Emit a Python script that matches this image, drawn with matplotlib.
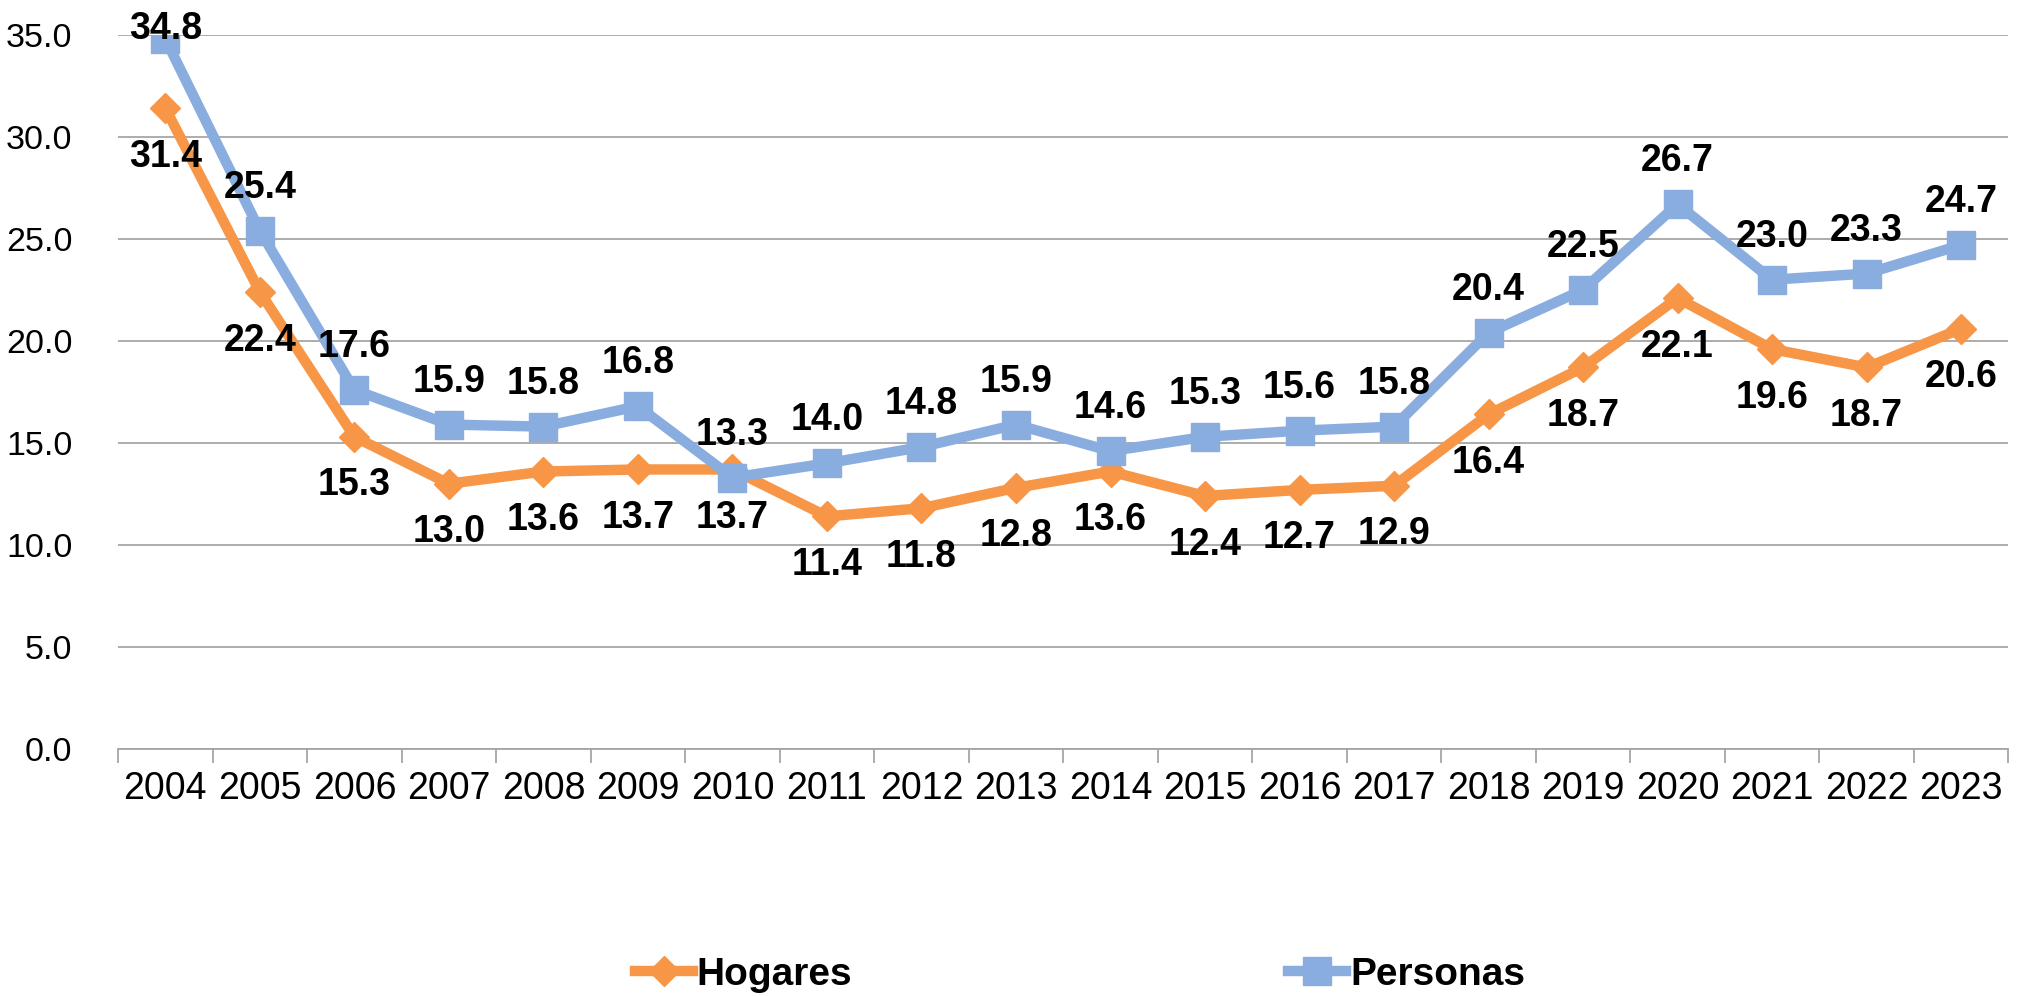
import matplotlib.pyplot as plt
from matplotlib.ticker import FixedLocator, FormatStrFormatter

years = [str(y) for y in range(2004, 2024)]
hogares = [31.4, 22.4, 15.3, 13.0, 13.6, 13.7, 13.7, 11.4, 11.8, 12.8,
           13.6, 12.4, 12.7, 12.9, 16.4, 18.7, 22.1, 19.6, 18.7, 20.6]
personas = [34.8, 25.4, 17.6, 15.9, 15.8, 16.8, 13.3, 14.0, 14.8, 15.9,
            14.6, 15.3, 15.6, 15.8, 20.4, 22.5, 26.7, 23.0, 23.3, 24.7]

orange = '#F79646'
blue = '#8AADE0'
grid = '#A6A6A6'
fam = ['Liberation Sans', 'DejaVu Sans']
plt.rcParams['font.family'] = fam

fig = plt.figure(figsize=(20.26, 9.96), dpi=100)
ax = fig.add_axes([0.0583, 0.248, 0.933, 0.717])

x = list(range(len(years)))
ax.plot(x, hogares, color=orange, lw=7.5, marker='D', ms=15, label='Hogares', zorder=3)
ax.plot(x, personas, color=blue, lw=7.5, marker='s', ms=20, label='Personas', zorder=4)

# etiquetas: Hogares debajo, Personas encima
for i, v in enumerate(hogares):
    ax.annotate(f'{v:.1f}', (i, v), xytext=(0, -35), textcoords='offset points',
                ha='center', va='center', fontsize=27, fontweight='bold', zorder=5)
for i, v in enumerate(personas):
    dy = 31 if v < 33 else 7
    ax.annotate(f'{v:.1f}', (i, v), xytext=(0, dy), textcoords='offset points',
                ha='center', va='center', fontsize=27, fontweight='bold', zorder=5)

ax.set_xlim(-0.5, len(years) - 0.5)
ax.set_ylim(0, 35)
ax.set_yticks([0, 5, 10, 15, 20, 25, 30, 35])
ax.yaxis.set_major_formatter(FormatStrFormatter('%.1f'))
ax.tick_params(axis='y', length=0, pad=33, labelsize=24.5)
ax.yaxis.grid(True, color=grid, lw=1.3)
ax.set_axisbelow(True)

ax.xaxis.set_major_locator(FixedLocator([i - 0.5 for i in range(len(years) + 1)]))
ax.xaxis.set_minor_locator(FixedLocator(x))
ax.set_xticklabels([], minor=False)
ax.set_xticklabels(years, minor=True)
ax.tick_params(axis='x', which='major', length=10, width=1.3, color=grid, direction='out')
ax.tick_params(axis='x', which='minor', length=0, pad=16, labelsize=27)

for s in ['top', 'right', 'left']:
    ax.spines[s].set_visible(False)
ax.spines['bottom'].set_color(grid)
ax.spines['bottom'].set_linewidth(1.3)

fig.legend(loc='center', bbox_to_anchor=(0.533, 0.021), ncol=2, frameon=False,
           handlelength=1.5, handletextpad=0.1, columnspacing=11.2,
           prop={'family': fam, 'weight': 'bold', 'size': 28})

fig.savefig('out.png', dpi=100)
